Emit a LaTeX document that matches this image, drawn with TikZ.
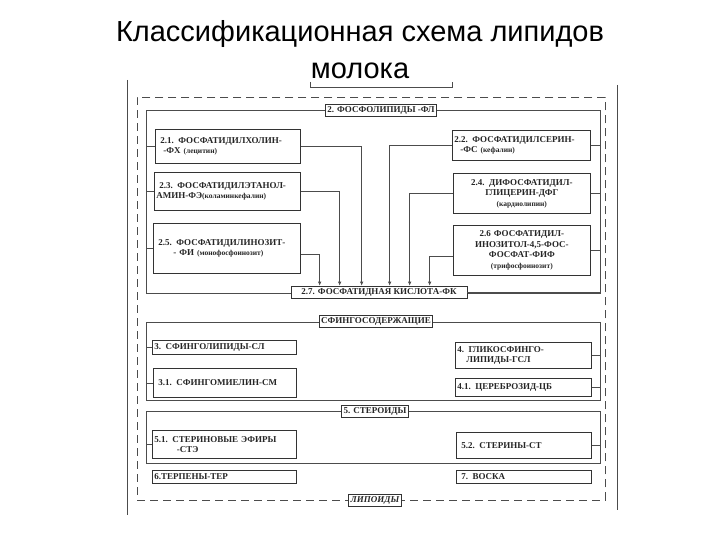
\documentclass[tikz,border=0pt]{standalone}
\usepackage{fontspec}
\setmainfont{Liberation Serif}
\newfontfamily\titlefont{Liberation Sans}
\usetikzlibrary{arrows.meta,positioning}
\newcommand{\sm}{\fontsize{7.5}{9}\selectfont}
\tikzset{
  box/.style={draw=black!80, line width=0.7pt, fill=white, anchor=north west, inner sep=2pt,
    font=\fontsize{9}{10.5}\selectfont\bfseries, align=left, text=black!85},
  frame/.style={draw=black!70, line width=0.6pt, anchor=north west, inner sep=0pt},
  lnk/.style={draw=black!70, line width=0.6pt},
  arr/.style={lnk, -{Latex[length=4pt,width=3.5pt]}},
}
\newcommand{\bx}[6]{\node[box, minimum width=#3pt, minimum height=#4pt, text width=#3pt-4pt, #5] (#1) at #2 {#6};}
\begin{document}
\begin{tikzpicture}[x=1pt,y=-1pt]
\useasboundingbox (0,0) rectangle (720,540);
\node[font=\titlefont\fontsize{29}{37}\selectfont, align=center] (title) at (360,50) {Классификационная схема липидов\\молока};
% outer lines
\coordinate (ol1) at (127,80); \coordinate (ol2) at (127,515);
\coordinate (or1) at (617,85); \coordinate (or2) at (617,510);
\draw[lnk, line width=0.8pt] (ol1) -- (ol2);
\draw[lnk, line width=0.8pt] (or1) -- (or2);
\draw[lnk] (310,82) -- (310,87) -- (452,87) -- (452,82);
% dashed frame
\node[frame, dashed, dash pattern=on 8pt off 5pt, minimum width=468pt, minimum height=403pt] (lip) at (137,97) {};
% frames
\node[frame, minimum width=454pt, minimum height=183pt] (fl) at (146,110) {};
\node[frame, minimum width=454pt, minimum height=78pt] (sf) at (146,322) {};
\node[frame, minimum width=454pt, minimum height=52pt] (st) at (146,411) {};
% title boxes
\node[box, anchor=center, align=center, text width=] (tfl) at (381,110) {2. ФОСФОЛИПИДЫ -ФЛ};
\node[box, anchor=center, align=center, text width=] (tsf) at (376,321) {СФИНГОСОДЕРЖАЩИЕ};
\node[box, anchor=center, align=center, text width=] (tst) at (375,411) {5. СТЕРОИДЫ};
\node[box, anchor=center, align=center, text width=, font=\fontsize{9}{10}\selectfont\bfseries\itshape] (tlip) at (375,500) {ЛИПОИДЫ};
% phospholipid boxes
\bx{b21}{(155,129)}{145}{34}{}{\ 2.1. ФОСФАТИДИЛХОЛИН-\\\ \ -ФХ {\sm(лецитин)}}
\bx{b23}{(154,172)}{146}{38}{}{\ 2.3. ФОСФАТИДИЛЭТАНОЛ-\\АМИН-ФЭ{\sm(коламинкефалин)}}
\bx{b25}{(153,223)}{147}{50}{}{\ 2.5. ФОСФАТИДИЛИНОЗИТ-\\\hspace*{2em}- ФИ {\sm(монофосфоинозит)}\\[12pt]}
\bx{b22}{(452,130)}{138}{30}{}{2.2. ФОСФАТИДИЛСЕРИН-\\\ \ -ФС {\sm(кефалин)}}
\bx{b24}{(453,173)}{137}{40}{align=center}{2.4. ДИФОСФАТИДИЛ-\\ГЛИЦЕРИН-ДФГ\\{\sm(кардиолипин)}}
\bx{b26}{(453,225)}{137}{50}{align=center}{2.6 ФОСФАТИДИЛ-\\ИНОЗИТОЛ-4,5-ФОС-\\ФОСФАТ-ФИФ\\{\sm(трифосфоинозит)}}
\node[box, anchor=center, align=center, text width=, minimum width=176pt] (fk) at (379,292) {2.7. ФОСФАТИДНАЯ КИСЛОТА-ФК};
% sphingo
\bx{b3}{(152,340)}{144}{14}{}{3. СФИНГОЛИПИДЫ-СЛ}
\bx{b31}{(153,368)}{143}{29}{}{\ 3.1. СФИНГОМИЕЛИН-СМ}
\bx{b4}{(455,342)}{136}{26}{}{4. ГЛИКОСФИНГО-\\\ \ \ ЛИПИДЫ-ГСЛ}
\bx{b41}{(455,378)}{136}{18}{}{4.1. ЦЕРЕБРОЗИД-ЦБ}
% steroids
\bx{b51}{(152,430)}{144}{28}{}{5.1. СТЕРИНОВЫЕ ЭФИРЫ\\\hspace*{2.5em}-СТЭ}
\bx{b52}{(456,432)}{135}{26}{}{\ 5.2. СТЕРИНЫ-СТ\\[6pt]}
\bx{b6}{(152,470)}{144}{13}{}{6.ТЕРПЕНЫ-ТЕР}
\bx{b7}{(456,470)}{135}{13}{}{\ 7. ВОСКА}
% links to frames
\foreach \n in {b21,b23,b25,b3,b31,b51} \draw[lnk] (\n.west) -- (\n.west -| fl.west);
\foreach \n in {b22,b24,b26,b4,b41,b52} \draw[lnk] (\n.east) -- (\n.east -| fl.east);
\draw[lnk] (fk.east) -- (fk.east -| fl.east);
% arrows
\draw[arr] ([yshift=-6pt]b25.east) -| ([xshift=29pt]fk.north west);
\draw[arr] (b23.east) -| ([xshift=49pt]fk.north west);
\draw[arr] (b21.east) -| ([xshift=71pt]fk.north west);
\draw[arr] (b22.west) -| ([xshift=99pt]fk.north west);
\draw[arr] (b24.west) -| ([xshift=119pt]fk.north west);
\draw[arr] ([yshift=-6pt]b26.west) -| ([xshift=139pt]fk.north west);
\end{tikzpicture}
\end{document}
